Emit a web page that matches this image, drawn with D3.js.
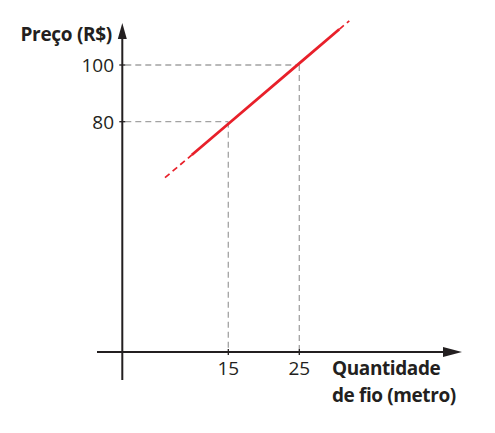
<!DOCTYPE html>
<html>
<head>
<meta charset="utf-8">
<script src="https://cdn.jsdelivr.net/npm/d3@7"></script>
<style>
  body { margin: 0; background: #fff; }
  text { font-family: "Open Sans", "Noto Sans", sans-serif; fill: #231f20; }
</style>
</head>
<body>
<div id="chart"></div>
<script>
// values
var xTicks = [15, 25];
var yTicks = [80, 100];
// price line: dashed lead-in, solid part, dashed lead-out
var leadIn = [[6.08, 60.25], [9.85, 68.25]];
var solidPart = [[9.85, 68.25], [15.35, 80], [24.87, 100.3], [30.63, 112.6]];
var leadOut = [[30.63, 112.6], [32.04, 115.6]];
var xTitle = ["Quantidade", "de fio (metro)"];
var yTitle = "Preço (R$)";

var width = 495, height = 433;
var axisX = 122.3, axisY = 352;

var svg = d3.select('#chart').append('svg')
    .attr('width', width)
    .attr('height', height);

var x = d3.scaleLinear().domain([15, 25]).range([228.3, 299.3]);
var y = d3.scaleLinear().domain([80, 100]).range([121.7, 65]);

var ink = '#231f20';
var grid = '#a3a3a3';
var red = '#e8202a';

// guide dashes from the axes to each tick pair
var guides = svg.append('g').attr('class', 'guides')
    .attr('stroke', grid)
    .attr('stroke-width', 1.3)
    .attr('stroke-dasharray', '6,4')
    .attr('fill', 'none');

xTicks.forEach(function(xv, i) {
    var yv = yTicks[i];
    guides.append('line')
        .attr('x1', axisX + 3).attr('x2', x(xv))
        .attr('y1', y(yv)).attr('y2', y(yv));
    guides.append('line')
        .attr('x1', x(xv)).attr('x2', x(xv))
        .attr('y1', y(yv)).attr('y2', axisY - 3);
});

// axes
var ax = svg.append('g').attr('class', 'axes');
ax.append('line')
    .attr('x1', 97).attr('x2', 446)
    .attr('y1', axisY).attr('y2', axisY)
    .attr('stroke', ink).attr('stroke-width', 2);
ax.append('path')
    .attr('d', 'M462,' + axisY + 'L443,' + (axisY - 5) + 'L443,' + (axisY + 5) + 'Z')
    .attr('fill', ink);
ax.append('line')
    .attr('x1', axisX).attr('x2', axisX)
    .attr('y1', 380).attr('y2', 36)
    .attr('stroke', ink).attr('stroke-width', 2);
ax.append('path')
    .attr('d', 'M' + axisX + ',23L' + (axisX - 4.5) + ',39L' + (axisX + 4.5) + ',39Z')
    .attr('fill', ink);

// ticks + labels
ax.selectAll('.xt').data(xTicks).enter().append('line')
    .attr('x1', function(d) { return x(d); })
    .attr('x2', function(d) { return x(d); })
    .attr('y1', axisY - 3).attr('y2', axisY + 3)
    .attr('stroke', ink).attr('stroke-width', 1.3);
ax.selectAll('.xl').data(xTicks).enter().append('text')
    .attr('x', function(d) { return x(d); })
    .attr('y', 375)
    .attr('text-anchor', 'middle')
    .style('font-size', '19px')
    .text(function(d) { return d; });

ax.selectAll('.yt').data(yTicks).enter().append('line')
    .attr('x1', axisX - 3).attr('x2', axisX + 3)
    .attr('y1', function(d) { return y(d); })
    .attr('y2', function(d) { return y(d); })
    .attr('stroke', ink).attr('stroke-width', 1.3);
ax.selectAll('.yl').data(yTicks).enter().append('text')
    .attr('x', 114)
    .attr('y', function(d) { return y(d) + 7; })
    .attr('text-anchor', 'end')
    .style('font-size', '19px')
    .text(function(d) { return d; });

// titles
svg.append('text')
    .attr('x', 112).attr('y', 41)
    .attr('text-anchor', 'end')
    .style('font-size', '19px')
    .style('font-weight', 'bold')
    .style('letter-spacing', '-0.3px')
    .text(yTitle);
svg.selectAll('.xtitle').data(xTitle).enter().append('text')
    .attr('x', 332)
    .attr('y', function(d, i) { return 375 + i * 27; })
    .style('font-size', '19px')
    .style('font-weight', 'bold')
    .style('letter-spacing', '-0.4px')
    .text(function(d) { return d; });

// price line
var line = d3.line()
    .x(function(d) { return x(d[0]); })
    .y(function(d) { return y(d[1]); });

svg.append('path').datum(solidPart)
    .attr('d', line)
    .attr('fill', 'none')
    .attr('stroke', red)
    .attr('stroke-width', 2.8);

[leadIn, leadOut].forEach(function(seg) {
    svg.append('path').datum(seg)
        .attr('d', line)
        .attr('fill', 'none')
        .attr('stroke', red)
        .attr('stroke-width', 1.7)
        .attr('stroke-dasharray', '6,4');
});
</script>
</body>
</html>
